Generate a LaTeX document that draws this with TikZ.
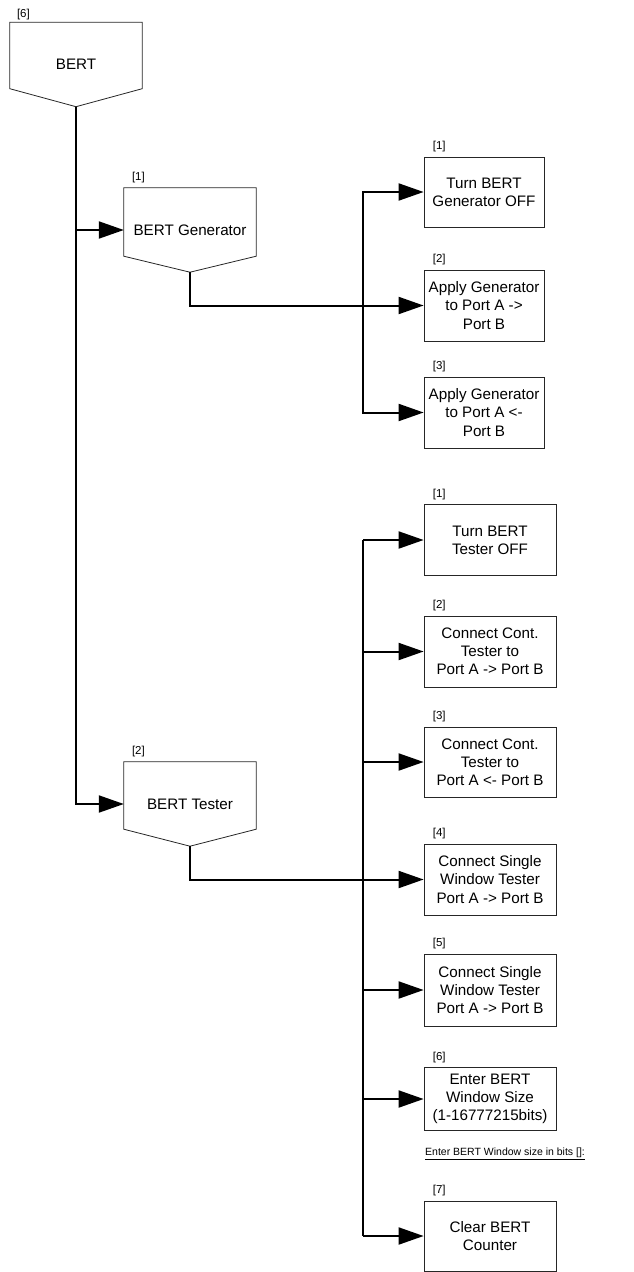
\documentclass[tikz,border=0pt]{standalone}
\usepackage{fontspec}
\setmainfont{Liberation Sans}
\usetikzlibrary{arrows.meta,calc}
\newcommand\menufont{\fontsize{15.2}{18.2}\selectfont}
\newcommand\tagfont{\fontsize{11.5}{13}\selectfont}
\newcommand\hintfont{\fontsize{10.5}{12}\selectfont}
\begin{document}
\begin{tikzpicture}[x=1pt,y=-1pt,
  conn/.style={line width=2pt,black},
  arr/.style={conn,-{Triangle[length=25pt,width=17pt]}},
  rim/.style={draw=black!85,line width=0.8pt},
  head/.style={minimum width=132pt,minimum height=84pt,inner sep=0pt,font=\menufont},
  genbox/.style={rim,minimum width=120pt,inner sep=0pt,align=center,font=\menufont},
  tstbox/.style={rim,minimum width=132pt,inner sep=0pt,align=center,font=\menufont},
  tag/.style={anchor=west,inner sep=0pt,font=\tagfont},
]
\useasboundingbox (0,0) rectangle (633,1272);

% menu headers (pentagon outlines with a pointed bottom)
\node[head] (bert) at (76,64.5) {BERT};
\node[head] (gen)  at (190,230) {BERT Generator};
\node[head] (tst)  at (190,804) {BERT Tester};
\foreach \h/\d in {bert/18pt,gen/16pt,tst/17pt}{
  \draw[rim] (\h.north west) -- (\h.north east) -- ([yshift=\d]\h.south east)
    -- (\h.south) -- ([yshift=\d]\h.south west) -- cycle;
}
\node[tag] (tagBert) at ([shift={(7pt,8pt)}]bert.north west) {[6]};
\node[tag] (tagGen)  at ([shift={(8pt,10pt)}]gen.north west) {[1]};
\node[tag] (tagTst)  at ([shift={(8pt,10pt)}]tst.north west) {[2]};

% generator items
\node[genbox,minimum height=70pt] (g1) at (484,192)   {Turn BERT\\Generator OFF};
\node[genbox,minimum height=71pt] (g2) at (484,305.5) {Apply Generator\\to Port A ->\\Port B};
\node[genbox,minimum height=71pt] (g3) at (484,412.5) {Apply Generator\\to Port A <-\\Port B};

% tester items
\node[tstbox,minimum height=71pt] (t1) at (490,540)   {Turn BERT\\Tester OFF};
\node[tstbox,minimum height=71pt] (t2) at (490,651.5) {Connect Cont.\\Tester to\\Port A -> Port B};
\node[tstbox,minimum height=70pt] (t3) at (490,762)   {Connect Cont.\\Tester to\\Port A <- Port B};
\node[tstbox,minimum height=71pt] (t4) at (490,879.5) {Connect Single\\Window Tester\\Port A -> Port B};
\node[tstbox,minimum height=72pt] (t5) at (490,990)   {Connect Single\\Window Tester\\Port A -> Port B};
\node[tstbox,minimum height=63pt] (t6) at (490,1099)  {Enter BERT\\Window Size\\(1-16777215bits)};
\node[tstbox,minimum height=70pt] (t7) at (490,1236)  {Clear BERT\\Counter};

\foreach \b/\n in {g1/1,g2/2,g3/3,t1/1,t2/2,t3/3,t4/4,t5/5,t6/6,t7/7}{
  \node[tag] (tag\b) at ([shift={(9pt,10pt)}]\b.north west) {[\n]};
}

\node[tag,font=\hintfont] (hint) at (425,1154) {\underline{Enter BERT Window size in bits []:}};

% connectors
\coordinate (bus) at (363,0);
\draw[arr] (bert.south) |- (gen.west);
\draw[arr] (bert.south) |- (tst.west);

\draw[arr] (gen.south) |- (g2.west);
\draw[arr] (bus |- g2.west) |- (g1.west);
\draw[arr] (bus |- g2.west) |- (g3.west);

\draw[arr] (tst.south) |- (t4.west);
\draw[conn] (bus |- t1.west) -- (bus |- t7.west);
\foreach \b in {t1,t2,t3,t5,t6,t7}{
  \draw[arr] (bus |- \b.west) -- (\b.west);
}
\end{tikzpicture}
\end{document}
